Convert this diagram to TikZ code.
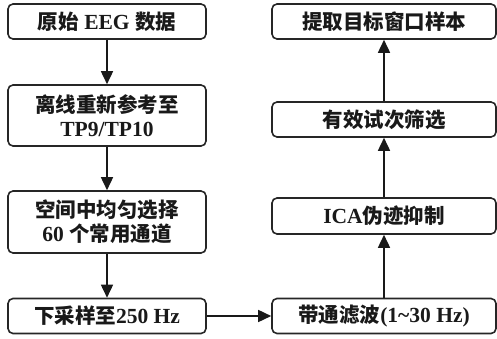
\documentclass[tikz,border=0pt]{standalone}
\usepackage{fontspec}
\setmainfont{Liberation Serif}[BoldFont={Liberation Serif Bold},Scale=1.05]
\newfontfamily\cjk{Noto Sans CJK SC Bold}
\usetikzlibrary{arrows.meta}
\begin{document}
\begin{tikzpicture}[x=1pt,y=-1pt,
  box/.style={draw=black!85,line width=1.6pt,rounded corners=5pt,inner sep=0pt,
    font=\fontsize{20.5}{24}\selectfont\bfseries,text=black!90,align=center},
  flow/.style={draw=black!90,line width=1.6pt,-{Triangle[length=13pt,width=12pt]}}]
\useasboundingbox (0,0) rectangle (497,339);
\node[box,minimum width=198pt,minimum height=35pt] (a) at (107,21.5) {{\cjk 原始} EEG {\cjk 数据}};
\node[box,minimum width=198pt,minimum height=61pt] (b) at (107,115.5) {{\cjk 离线重新参考至}\\TP9/TP10};
\node[box,minimum width=198pt,minimum height=62pt] (c) at (107,222) {{\cjk 空间中均匀选择}\\60 {\cjk 个常用通道}};
\node[box,minimum width=198pt,minimum height=35pt] (d) at (107,316) {{\cjk 下采样至}250 Hz};
\node[box,minimum width=224pt,minimum height=35pt] (e) at (384,316) {{\cjk 带通滤波}(1\textasciitilde30 Hz)};
\node[box,minimum width=224pt,minimum height=36pt] (f) at (384,216) {ICA{\cjk 伪迹抑制}};
\node[box,minimum width=224pt,minimum height=35pt] (g) at (384,119.5) {{\cjk 有效试次筛选}};
\node[box,minimum width=224pt,minimum height=35pt] (h) at (384,21.5) {{\cjk 提取目标窗口样本}};
\draw[flow] (a) -- (b);
\draw[flow] (b) -- (c);
\draw[flow] (c) -- (d);
\draw[flow] (d) -- (e);
\draw[flow] (e) -- (f);
\draw[flow] (f) -- (g);
\draw[flow] (g) -- (h);
\end{tikzpicture}
\end{document}
